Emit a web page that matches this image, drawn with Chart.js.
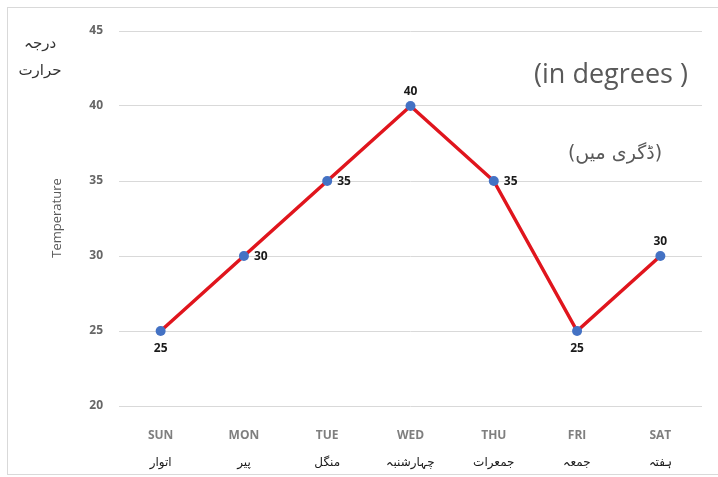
<!DOCTYPE html>
<html>
<head>
<meta charset="utf-8">
<script src="https://cdn.jsdelivr.net/npm/chart.js@4.4.0/dist/chart.umd.min.js"></script>
<style>
  html, body { margin: 0; padding: 0; background: #fff; }
  #wrap { width: 718px; height: 477px; position: relative; }
</style>
</head>
<body>
<div id="wrap"><canvas id="chart"></canvas></div>
<script>
// Datos del gráfico
const days = ['SUN', 'MON', 'TUE', 'WED', 'THU', 'FRI', 'SAT'];
const daysUrdu = ['اتوار', 'پیر', 'منگل', 'چہارشنبہ', 'جمعرات', 'جمعہ', 'ہفتہ'];
const temperatures = [25, 30, 35, 40, 35, 25, 30];
const labelSide = ['below', 'right', 'right', 'above', 'right', 'below', 'above'];
const yTicks = [20, 25, 30, 35, 40, 45];

// Textos y etiquetas extra dibujadas encima del gráfico
const extrasPlugin = {
    id: 'extras',
    afterDraw(chart) {
        const ctx = chart.ctx;
        const x = chart.scales.x;
        const meta = chart.getDatasetMeta(0);
        ctx.save();

        // marco exterior
        ctx.strokeStyle = '#d9d9d9';
        ctx.lineWidth = 1;
        ctx.strokeRect(7.5, 7.5, 730, 467);

        // etiquetas de datos
        ctx.fillStyle = '#1a1a1a';
        ctx.font = 'bold 12px "Open Sans", sans-serif';
        meta.data.forEach((pt, i) => {
            const v = temperatures[i];
            const side = labelSide[i];
            if (side === 'right') {
                ctx.textAlign = 'left';
                ctx.textBaseline = 'middle';
                ctx.fillText(v, pt.x + 10, pt.y + 1);
            } else if (side === 'above') {
                ctx.textAlign = 'center';
                ctx.textBaseline = 'bottom';
                ctx.fillText(v, pt.x, pt.y - 8);
            } else {
                ctx.textAlign = 'center';
                ctx.textBaseline = 'top';
                ctx.fillText(v, pt.x, pt.y + 12);
            }
        });

        // etiquetas del eje x (inglés + urdu)
        days.forEach((d, i) => {
            const px = x.getPixelForValue(i);
            ctx.textAlign = 'center';
            ctx.textBaseline = 'middle';
            ctx.fillStyle = '#7f7f7f';
            ctx.font = 'bold 12px "Open Sans", sans-serif';
            ctx.fillText(d, px, 436);
            ctx.fillStyle = '#1a1a1a';
            ctx.font = '12px "DejaVu Sans", sans-serif';
            ctx.fillText(daysUrdu[i], px, 463);
        });

        // título del eje y
        ctx.save();
        ctx.translate(57, 218);
        ctx.rotate(-Math.PI / 2);
        ctx.fillStyle = '#595959';
        ctx.font = '13px "Open Sans", sans-serif';
        ctx.textAlign = 'center';
        ctx.textBaseline = 'middle';
        ctx.fillText('Temperature', 0, 0);
        ctx.restore();

        // textos urdu arriba a la izquierda
        ctx.fillStyle = '#333';
        ctx.font = '15px "DejaVu Sans", sans-serif';
        ctx.textAlign = 'center';
        ctx.textBaseline = 'middle';
        ctx.fillText('درجہ', 40, 44);
        ctx.fillText('حرارت', 40, 71);

        // unidades
        ctx.fillStyle = '#595959';
        ctx.font = '27px "Open Sans", sans-serif';
        ctx.fillText('(in degrees )', 611, 75);
        ctx.font = '19px "DejaVu Sans", sans-serif';
        ctx.fillText('(ڈگری میں)', 615, 154);

        ctx.restore();
    }
};

new Chart(document.getElementById('chart'), {
    type: 'line',
    data: {
        labels: days,
        datasets: [{
            data: temperatures,
            borderColor: '#e0151d',
            borderWidth: 3.5,
            pointRadius: 5,
            pointBackgroundColor: '#4472c4',
            pointBorderColor: '#4472c4',
            pointBorderWidth: 0,
            tension: 0,
            fill: false
        }]
    },
    options: {
        responsive: true,
        maintainAspectRatio: false,
        animation: false,
        events: [],
        layout: {
            padding: { top: 31, bottom: 71, left: 0, right: 16 }
        },
        plugins: {
            legend: { display: false },
            tooltip: { enabled: false }
        },
        scales: {
            x: {
                offset: true,
                grid: { display: false, drawTicks: false },
                border: { display: false },
                ticks: { display: false }
            },
            y: {
                min: 20,
                max: 45,
                afterFit(scale) { scale.width = 119; },
                afterBuildTicks(scale) {
                    scale.ticks = yTicks.map(v => ({ value: v }));
                },
                grid: { color: '#d9d9d9', lineWidth: 1, drawTicks: false },
                border: { display: false },
                ticks: {
                    padding: 16,
                    color: '#666666',
                    font: { family: '"Open Sans", sans-serif', size: 12, weight: 'bold' }
                }
            }
        }
    },
    plugins: [extrasPlugin]
});
</script>
</body>
</html>
